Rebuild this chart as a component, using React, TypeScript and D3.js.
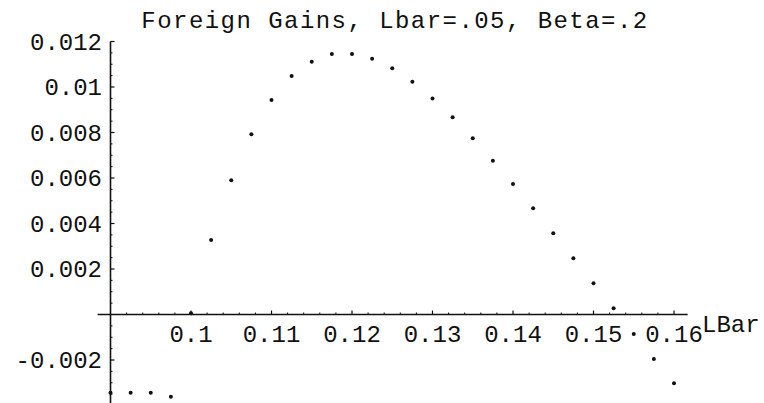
import React from "react";
import * as d3 from "d3";

const TITLE = "Foreign Gains, Lbar=.05, Beta=.2";
const X_LABEL = "LBar";
const lbar = [
  0.09, 0.0925, 0.095, 0.0975, 0.1, 0.1025, 0.105, 0.1075, 0.11, 0.1125,
  0.115, 0.1175, 0.12, 0.1225, 0.125, 0.1275, 0.13, 0.1325, 0.135, 0.1375,
  0.14, 0.1425, 0.145, 0.1475, 0.15, 0.1525, 0.155, 0.1575, 0.16,
];
const gains = [
  -0.00344, -0.00344, -0.00344, -0.00361, 0.00005, 0.00327, 0.0059, 0.00792,
  0.00943, 0.01048, 0.01111, 0.01145, 0.01145, 0.01124, 0.01082, 0.01023,
  0.0095, 0.00867, 0.00775, 0.00676, 0.00574, 0.00467, 0.00357, 0.00247,
  0.00137, 0.00027, -0.00086, -0.00196, -0.00302,
];
const xTicks = [0.1, 0.11, 0.12, 0.13, 0.14, 0.15, 0.16];
const xTickLabels = ["0.1", "0.11", "0.12", "0.13", "0.14", "0.15", "0.16"];
const yTicks = [-0.002, 0.002, 0.004, 0.006, 0.008, 0.01, 0.012];
const yTickLabels = ["-0.002", "0.002", "0.004", "0.006", "0.008", "0.01", "0.012"];
const xAxisExtent = [0.0884, 0.1617];
const yAxisExtent = [-0.0041, 0.012];

const W = 764;
const H = 403;
const FONT = "'Liberation Mono', 'DejaVu Sans Mono', monospace";

export default function App() {
  const x = d3.scaleLinear().domain([0.09, 0.16]).range([110.5, 674]);
  const y = d3.scaleLinear().domain([0, 0.012]).range([314.5, 41.5]);
  const y0 = y(0);
  const x0 = x(0.09);

  const xMinor = d3.range(0.09, 0.1601, 0.002).filter(
    (v) => !xTicks.some((t) => Math.abs(t - v) < 1e-9) && v > 0.0901
  );
  const yMinor = d3.range(-0.004, 0.01201, 0.0005).filter(
    (v) => !yTicks.some((t) => Math.abs(t - v) < 1e-9) && Math.abs(v) > 1e-9
  );

  return (
    <svg
      width={W}
      height={H}
      style={{ position: "absolute", left: 0, top: 0, background: "#fff" }}
    >
      <rect width={W} height={H} fill="#fff" />
      <text
        x={395}
        y={28}
        textAnchor="middle"
        fontFamily={FONT}
        fontSize={24}
        fill="#111"
        letterSpacing={1.45}
      >
        {TITLE}
      </text>
      {/* x axis */}
      <line
        x1={x(xAxisExtent[0])}
        x2={x(xAxisExtent[1])}
        y1={y0}
        y2={y0}
        stroke="#111"
        strokeWidth={1.6}
      />
      {xTicks.map((t) => (
        <line key={"xt" + t} x1={x(t)} x2={x(t)} y1={y0} y2={y0 - 4} stroke="#111" strokeWidth={1.2} />
      ))}
      {xMinor.map((t) => (
        <line key={"xm" + t} x1={x(t)} x2={x(t)} y1={y0} y2={y0 - 2} stroke="#111" strokeWidth={1} />
      ))}
      {xTicks.map((t, i) => (
        <text
          key={"xl" + t}
          x={x(t)}
          y={y0 + 27}
          textAnchor="middle"
          fontFamily={FONT}
          fontSize={24}
          fill="#111"
        >
          {xTickLabels[i]}
        </text>
      ))}
      <text x={702} y={332} fontFamily={FONT} fontSize={24} fill="#111">
        {X_LABEL}
      </text>
      {/* y axis */}
      <line
        x1={x0}
        x2={x0}
        y1={y(yAxisExtent[0])}
        y2={y(yAxisExtent[1])}
        stroke="#111"
        strokeWidth={1.6}
      />
      {yTicks.map((t) => (
        <line key={"yt" + t} x1={x0} x2={x0 + 4} y1={y(t)} y2={y(t)} stroke="#111" strokeWidth={1.2} />
      ))}
      {yMinor.map((t) => (
        <line key={"ym" + t} x1={x0} x2={x0 + 2} y1={y(t)} y2={y(t)} stroke="#111" strokeWidth={1} />
      ))}
      {yTicks.map((t, i) => (
        <text
          key={"yl" + t}
          x={102}
          y={y(t) + 8}
          textAnchor="end"
          fontFamily={FONT}
          fontSize={24}
          fill="#111"
        >
          {yTickLabels[i]}
        </text>
      ))}
      {/* points */}
      {lbar.map((v, i) => (
        <circle key={"p" + i} cx={x(v)} cy={y(gains[i])} r={2} fill="#111" />
      ))}
    </svg>
  );
}
